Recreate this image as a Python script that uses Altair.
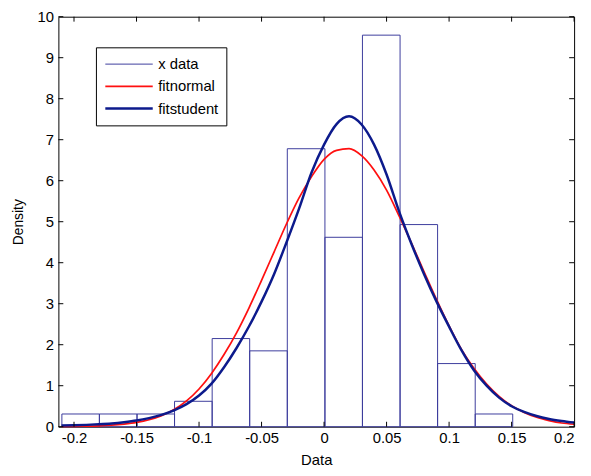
import altair as alt
import pandas as pd

# ---- data ----
bin_edges = [-0.2097, -0.1797, -0.1496, -0.1196, -0.0895, -0.0595, -0.0294,
             0.0007, 0.0307, 0.0608, 0.0908, 0.1209, 0.1509]
bin_heights = [0.31, 0.31, 0.31, 0.62, 2.15, 1.85, 6.78, 4.62, 9.55, 4.93, 1.54, 0.31]

x_grid = [-0.21, -0.20, -0.19, -0.18, -0.17, -0.16, -0.15, -0.14, -0.13, -0.12,
          -0.11, -0.10, -0.09, -0.08, -0.07, -0.06, -0.05, -0.04, -0.03, -0.02,
          -0.01, 0.00, 0.01, 0.02, 0.03, 0.04, 0.05, 0.06, 0.07, 0.08,
          0.09, 0.10, 0.11, 0.12, 0.13, 0.14, 0.15, 0.16, 0.17, 0.18,
          0.19, 0.20]
normal_pdf = [0.005, 0.008, 0.013, 0.022, 0.038, 0.065, 0.105, 0.17, 0.27, 0.42,
              0.63, 0.92, 1.30, 1.76, 2.29, 2.90, 3.57, 4.26, 4.95, 5.58,
              6.10, 6.52, 6.74, 6.78, 6.61, 6.26, 5.77, 5.14, 4.47, 3.78,
              3.10, 2.46, 1.88, 1.42, 1.04, 0.74, 0.51, 0.35, 0.23, 0.15,
              0.09, 0.06]
student_pdf = [0.03, 0.035, 0.045, 0.06, 0.08, 0.11, 0.15, 0.21, 0.29, 0.40,
               0.55, 0.76, 1.05, 1.45, 1.92, 2.45, 3.05, 3.72, 4.50, 5.32,
               6.20, 6.88, 7.38, 7.57, 7.37, 6.88, 6.15, 5.25, 4.45, 3.72,
               3.05, 2.44, 1.86, 1.37, 1.00, 0.71, 0.50, 0.36, 0.26, 0.19,
               0.14, 0.10]

x_ticks = [-0.2, -0.15, -0.1, -0.05, 0, 0.05, 0.1, 0.15, 0.2]
y_ticks = [0, 1, 2, 3, 4, 5, 6, 7, 8, 9, 10]

series_names = ["x data", "fitnormal", "fitstudent"]
series_colors = ["#3c3c9c", "#ff1010", "#0c1a8c"]
series_widths = [1, 2.5, 2.5]

# ---- tables ----
hist_df = pd.DataFrame({"x0": bin_edges[:-1], "x1": bin_edges[1:],
                        "y": bin_heights, "series": "x data"})
curve_df = pd.concat([
    pd.DataFrame({"x": x_grid, "y": normal_pdf, "series": "fitnormal"}),
    pd.DataFrame({"x": x_grid, "y": student_pdf, "series": "fitstudent"}),
])
xt_df = pd.DataFrame({"v": x_ticks})
yt_df = pd.DataFrame({"v": y_ticks})

W, H = 522, 415
FONT = "Liberation Sans"
xs = alt.Scale(domain=[-0.2125, 0.2], nice=False, zero=False)
ys = alt.Scale(domain=[0, 10], nice=False, zero=False)

x_axis = alt.Axis(values=x_ticks, labelExpr="toString(datum.value)",
                  ticks=False, domain=False, grid=False,
                  labelFontSize=15, labelFont=FONT, labelColor="black",
                  labelPadding=4, title="Data", titleFont=FONT,
                  titleFontSize=15, titleFontWeight="normal",
                  titleColor="black", titlePadding=7)
y_axis = alt.Axis(values=y_ticks, ticks=False, domain=False, grid=False,
                  labelFontSize=15, labelFont=FONT, labelColor="black",
                  labelPadding=5, title="Density", titleFont=FONT,
                  titleFontSize=14, titleFontWeight="normal",
                  titleColor="black", titlePadding=12)

legend_props = dict(
    title=None, orient="none", legendX=38, legendY=31,
    symbolType="stroke", symbolSize=2304, labelFontSize=15, labelFont=FONT,
    labelColor="black", strokeColor="black", fillColor="white", padding=8,
    labelOffset=4, rowPadding=4.5, clipHeight=18,
)
color = alt.Color("series:N",
                  scale=alt.Scale(domain=series_names, range=series_colors),
                  legend=alt.Legend(**legend_props))
swidth = alt.StrokeWidth("series:N",
                         scale=alt.Scale(domain=series_names, range=series_widths),
                         legend=alt.Legend(**legend_props))

hist = alt.Chart(hist_df).mark_rect(filled=False).encode(
    x=alt.X("x0:Q", scale=xs, axis=x_axis),
    x2="x1:Q",
    y=alt.Y("y:Q", scale=ys, axis=y_axis),
    y2=alt.datum(0),
    color=color,
    strokeWidth=swidth,
)

lines = alt.Chart(curve_df).mark_line(interpolate="monotone").encode(
    x=alt.X("x:Q", scale=xs, axis=x_axis),
    y=alt.Y("y:Q", scale=ys, axis=y_axis),
    color=color,
    strokeWidth=swidth,
    order=alt.Order("x:Q"),
)

tick_len = 5
bx = alt.Chart(xt_df).mark_rule(color="black", strokeWidth=1).encode(
    x=alt.X("v:Q", scale=xs, axis=x_axis), y=alt.value(H), y2=alt.value(H - tick_len))
tx = alt.Chart(xt_df).mark_rule(color="black", strokeWidth=1).encode(
    x=alt.X("v:Q", scale=xs, axis=x_axis), y=alt.value(0), y2=alt.value(tick_len))
ly = alt.Chart(yt_df).mark_rule(color="black", strokeWidth=1).encode(
    y=alt.Y("v:Q", scale=ys, axis=y_axis), x=alt.value(0), x2=alt.value(tick_len))
ry = alt.Chart(yt_df).mark_rule(color="black", strokeWidth=1).encode(
    y=alt.Y("v:Q", scale=ys, axis=y_axis), x=alt.value(W), x2=alt.value(W - tick_len))

chart = alt.layer(hist, lines, bx, tx, ly, ry).properties(
    width=W, height=H,
    autosize=alt.AutoSizeParams(type="none"),
    padding={"left": 51, "top": 6, "right": 9, "bottom": 40},
    background="white",
).configure_view(stroke="black", strokeWidth=1)

chart.save("out.html", embed_options={"renderer": "svg", "actions": False})
